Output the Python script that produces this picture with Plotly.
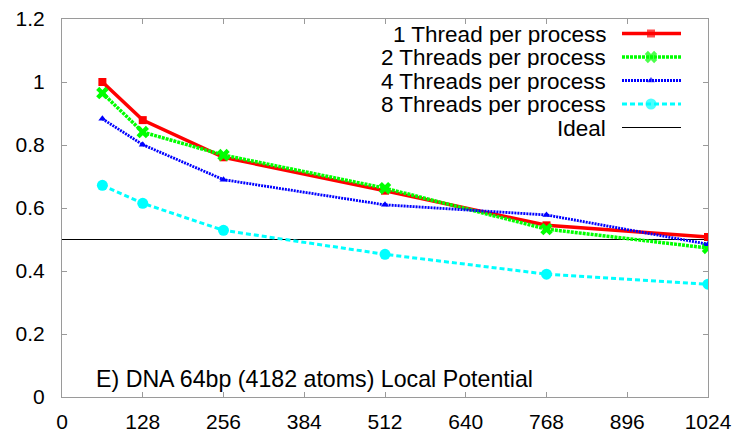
import plotly.graph_objects as go

x_vals = [64, 128, 256, 512, 768, 1024]
one_thread = [1.0, 0.879, 0.761, 0.655, 0.545, 0.508]
two_threads = [0.965, 0.841, 0.768, 0.663, 0.533, 0.473]
four_threads = [0.883, 0.801, 0.690, 0.610, 0.578, 0.485]
eight_threads = [0.672, 0.615, 0.529, 0.453, 0.390, 0.358]
ideal_x = [0, 1024]
ideal_y = [0.5, 0.5]

x_ticks = [0, 128, 256, 384, 512, 640, 768, 896, 1024]
y_ticks = [0, 0.2, 0.4, 0.6, 0.8, 1.0, 1.2]
y_tick_text = ["0", "0.2", "0.4", "0.6", "0.8", "1", "1.2"]

series_names = ["1 Thread per process", "2 Threads per process",
                "4 Threads per process", "8 Threads per process", "Ideal"]
caption = "E) DNA 64bp (4182 atoms) Local Potential"

FONT = "Liberation Sans, Arial, Helvetica, sans-serif"
FS_TEXT = 22.5
FS_CAPTION = 23.2
FS_TICK = 21

styles = [
    dict(color="#ff0000", width=3.5, dash="solid", symbol="square", msize=8),
    dict(color="#00ff00", width=3.5, dash="3px,1px", symbol="x", msize=11),
    dict(color="#0000ff", width=2.8, dash="2px,1px", symbol="triangle-up", msize=7),
    dict(color="#00ffff", width=3, dash="5px,3px", symbol="circle", msize=11),
]
series = [one_thread, two_threads, four_threads, eight_threads]

fig = go.Figure()

# Ideal line
fig.add_trace(go.Scatter(x=ideal_x, y=ideal_y, mode="lines",
                         line=dict(color="#000000", width=1),
                         showlegend=False, hoverinfo="skip"))

for ys, st, name in zip(series, styles, series_names):
    fig.add_trace(go.Scatter(
        x=x_vals, y=ys, mode="lines+markers", name=name,
        line=dict(color=st["color"], width=st["width"], dash=st["dash"]),
        marker=dict(color=st["color"], symbol=st["symbol"], size=st["msize"],
                    line=dict(width=0)),
        showlegend=False))

# Custom legend (text right, sample on the right side), pixel-mapped overlay axis
row_y = [33.5, 57, 80.5, 104, 127.5]
seg_x0, seg_x1, seg_mid = 622, 681, 651
for i, name in enumerate(series_names):
    if i < 4:
        st = styles[i]
        fig.add_trace(go.Scatter(
            x=[seg_x0, seg_mid, seg_x1], y=[row_y[i]] * 3, mode="lines+markers",
            xaxis="x2", yaxis="y2",
            line=dict(color=st["color"], width=st["width"], dash=st["dash"]),
            marker=dict(color=st["color"], symbol=st["symbol"],
                        size=[0, st["msize"], 0], line=dict(width=0)),
            showlegend=False, hoverinfo="skip"))
    else:
        fig.add_trace(go.Scatter(
            x=[seg_x0, seg_x1], y=[row_y[i]] * 2, mode="lines",
            xaxis="x2", yaxis="y2",
            line=dict(color="#000000", width=1),
            showlegend=False, hoverinfo="skip"))
    fig.add_annotation(x=607, y=row_y[i], xref="x2", yref="y2", text=name,
                       showarrow=False, xanchor="right", yanchor="middle",
                       height=22, borderpad=0,
                       font=dict(family=FONT, size=FS_TEXT, color="#000000"))

fig.add_annotation(x=94, y=379, xref="x2", yref="y2", text=caption,
                   showarrow=False, xanchor="left", yanchor="middle",
                   font=dict(family=FONT, size=FS_CAPTION, color="#000000"))

axis_common = dict(showgrid=False, zeroline=False, showline=True,
                   linecolor="#9a9a9a", linewidth=1, mirror="ticks",
                   ticks="inside", ticklen=5, tickcolor="#9a9a9a", tickwidth=1,
                   automargin=False,
                   tickfont=dict(family=FONT, size=FS_TICK, color="#000000"))

fig.update_layout(
    width=740, height=432,
    margin=dict(l=62, r=32, t=19, b=35),
    paper_bgcolor="white", plot_bgcolor="white",
    showlegend=False,
    xaxis=dict(range=[0, 1024], tickvals=x_ticks, ticktext=[str(v) for v in x_ticks],
               ticklabelstandoff=6, **axis_common),
    yaxis=dict(range=[0, 1.2], tickvals=y_ticks, ticktext=y_tick_text,
               ticklabelstandoff=12, **axis_common),
    xaxis2=dict(range=[62, 708], overlaying="x", anchor="y2", visible=False,
                showgrid=False, zeroline=False, automargin=False),
    yaxis2=dict(range=[397, 19], overlaying="y", anchor="x2", visible=False,
                showgrid=False, zeroline=False, automargin=False),
)

fig.write_html("out.html")
